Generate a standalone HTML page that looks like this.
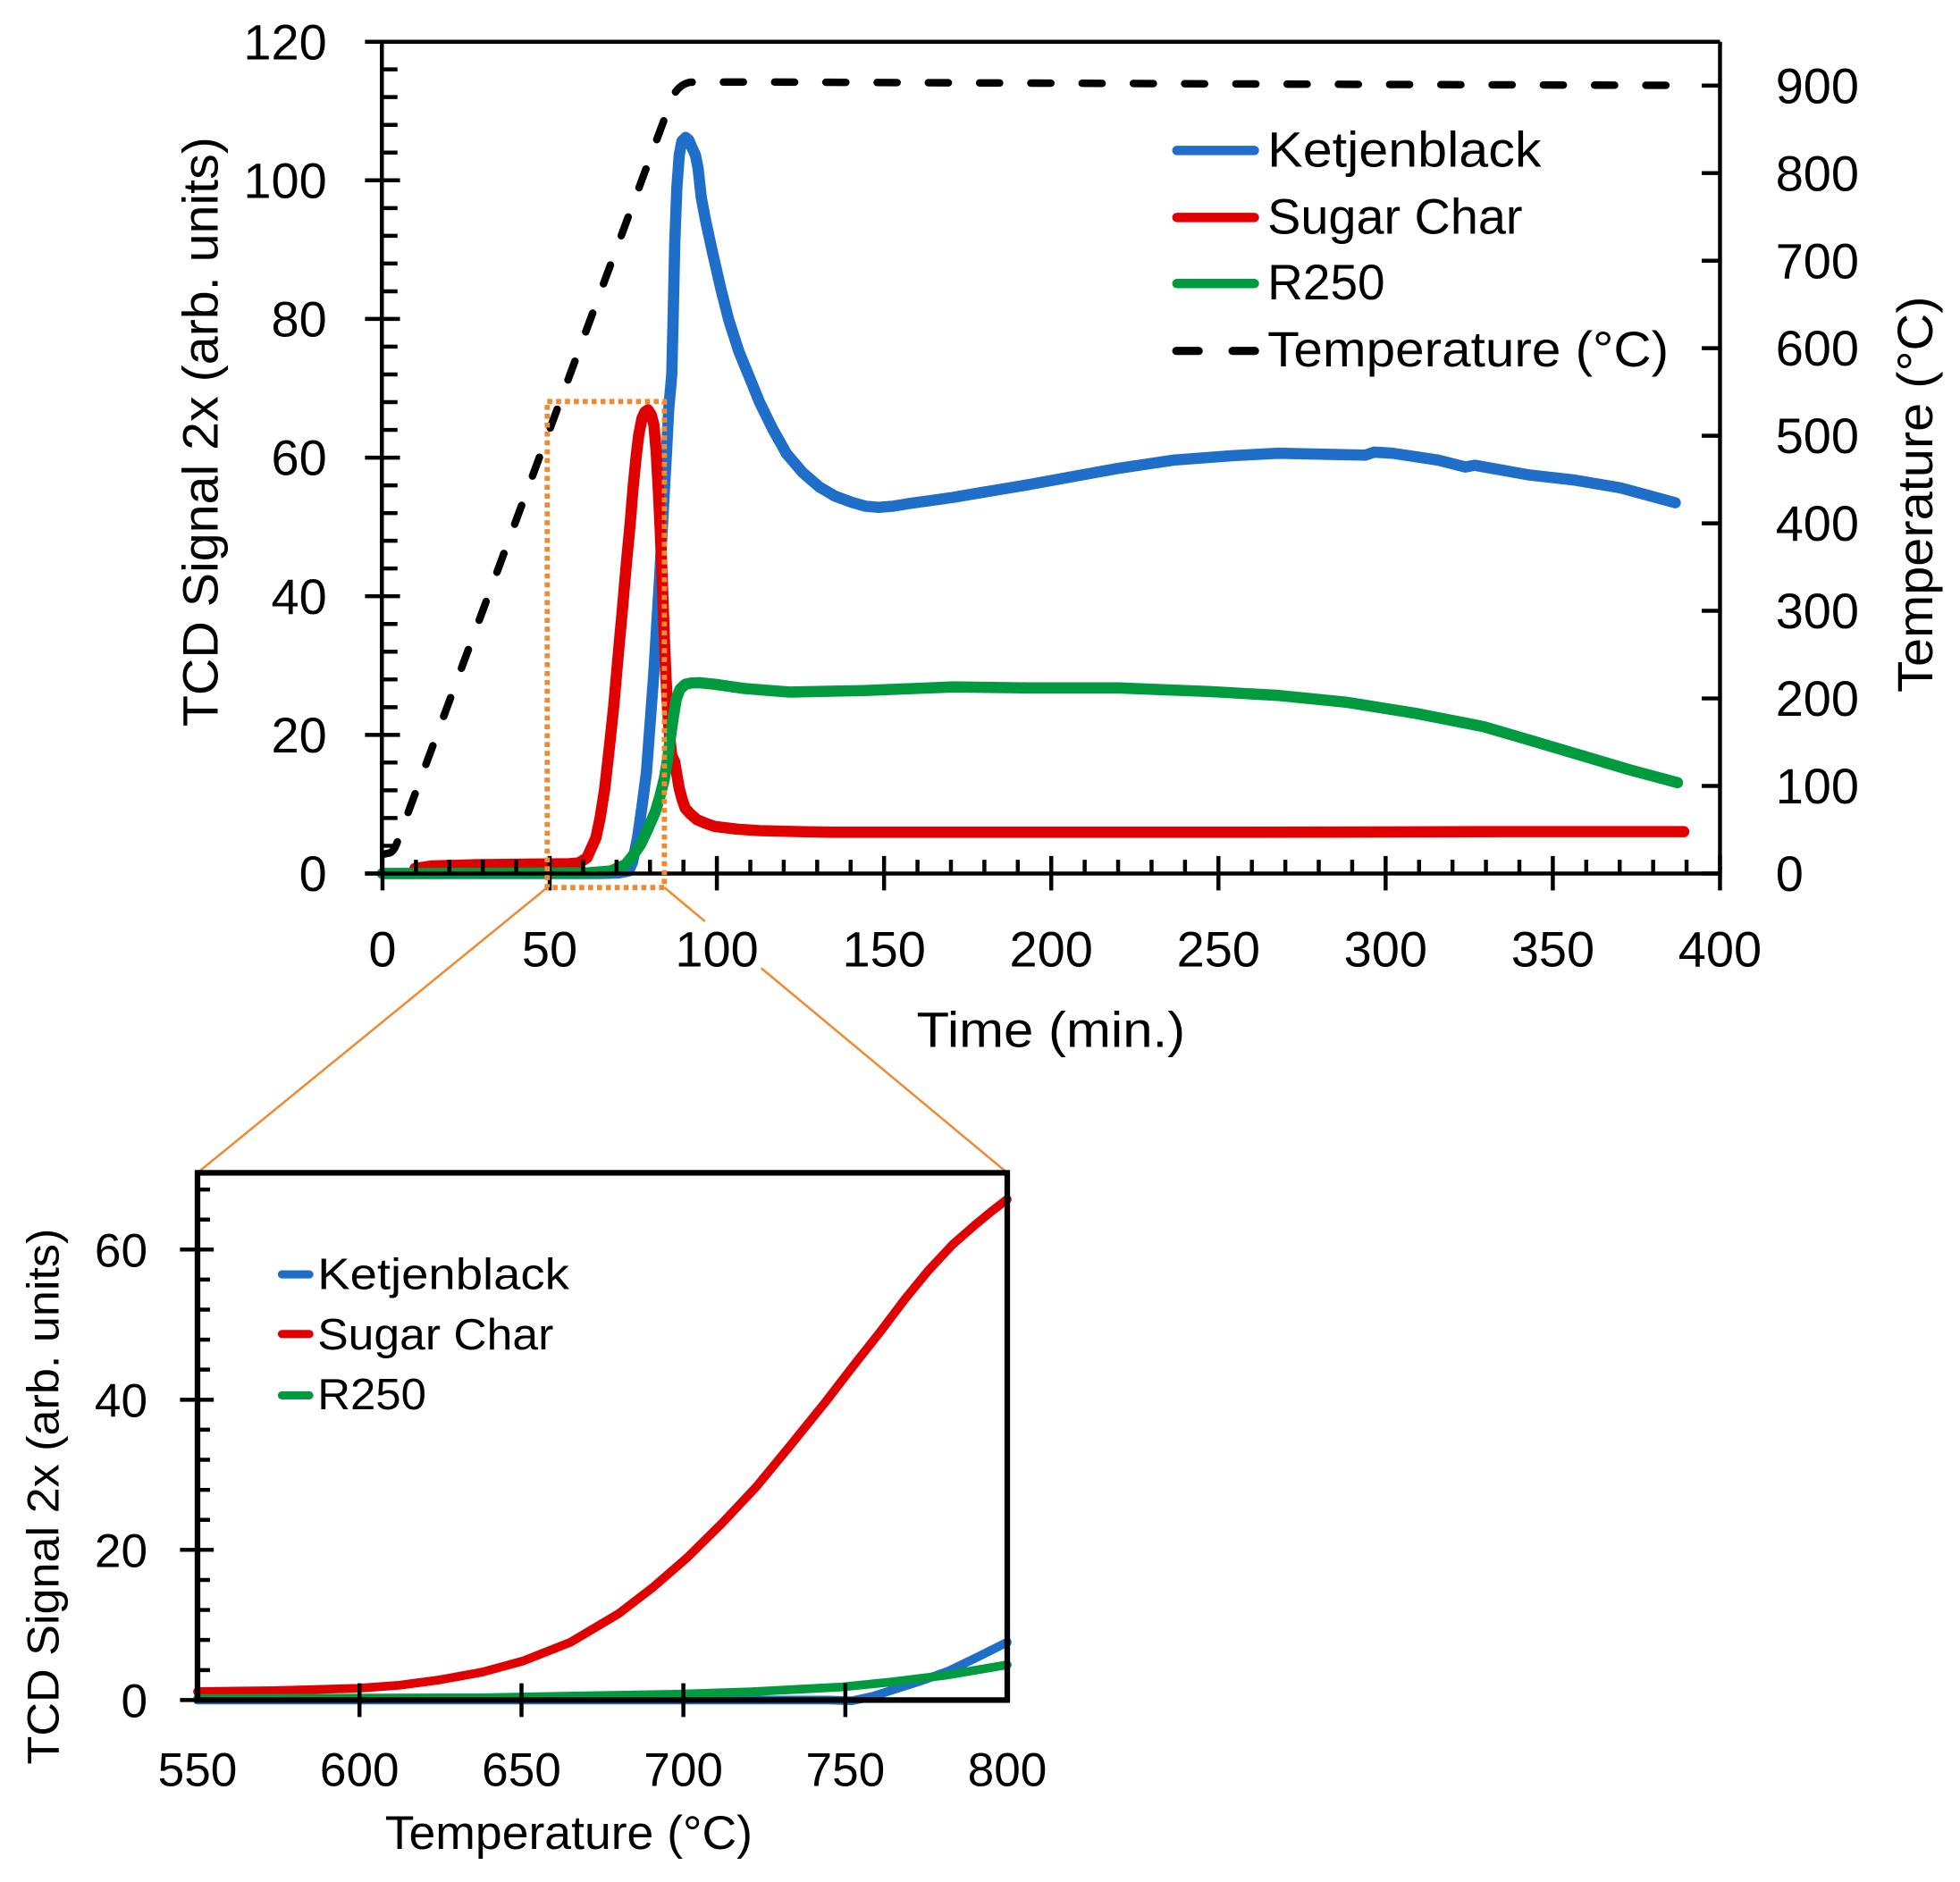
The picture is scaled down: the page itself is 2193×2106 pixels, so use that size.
<!DOCTYPE html>
<html><head><meta charset="utf-8"><style>
html,body{margin:0;padding:0;background:#fff;}
svg{display:block;}
text{font-family:"Liberation Sans",Arial,sans-serif;fill:#000;}
</style></head><body>
<svg xmlns="http://www.w3.org/2000/svg" width="2193" height="2106" viewBox="0 0 1568 1506" preserveAspectRatio="none">
<rect x="0" y="0" width="1568" height="1506" fill="#fff"/>

<!-- ===== MAIN CHART ===== -->
<g fill="none" stroke-linejoin="round" stroke-linecap="round" stroke-width="9">
<polyline stroke="#1F6FCA" points="306,699 480,699 495,698.5 502.9,697 506,690 510,670.6 513.5,646 517.2,617.7 520,580 523.1,538.4 525.5,498 527.9,459 529.7,425 531.5,393 533.3,360 535,327 537.4,300 538.5,255 539.8,195 541.5,150 543.4,124 545.5,113 548.5,110 551,112 553.5,118 556.3,124 558.5,135 561,158 564.8,178 570,202 576.8,231.6 583,256 591,281 600,303 607.7,322 618,343 629.2,363 642,378 655.4,389.6 668,397 681.6,402 692,405 703,406 715,405 726.9,403 745,400.5 762.6,398 780,395 798,392 822,388 858.7,381.3 895.2,374.7 938.9,368.2 986.4,364.6 1022.8,362.7 1059.3,363.5 1092.2,364.2 1099.4,361.8 1114,362.7 1150.5,368.2 1172.4,373.7 1179.7,372.3 1223.5,380.1 1260,384.2 1296.4,390.4 1340.2,402.3"/>
<polyline stroke="#E00000" points="332,695 345,693 380,692 420,691.5 455,691.2 463,690.5 469.5,686.5 476.7,670.6 480,655 483.8,631 487.5,598 491,564.8 494.5,525 498.1,485.5 501,452 504.1,419.3 506.5,390 508.8,366.4 511,348 513.6,334.7 516,329.5 518.4,328 521,332 523.1,340 525,362 526.7,392.9 528,420 529.1,445.8 530.3,478 531.5,511.9 532.7,540 533.9,564.8 535.6,588 537.4,604.5 539.8,609.8 541.5,620 543.4,631 545.8,640 548.2,646.8 552,651 557.7,656 565,659 572,661.4 590,663.5 607.7,664.7 640,665.5 667,666 860,666 1000,666 1200,665.5 1347,665.5"/>
<polyline stroke="#009B3E" points="306,699 470,698.5 488.6,697 500.5,691.8 506,685 512.4,675.9 518,664 524.3,649.4 528,637 531.5,623 534,608 536.2,591.2 538.6,574 541,559.5 544,551.5 548.2,547.6 553,546.5 560,546.3 572,547.6 595.8,551 631.6,553.8 691.1,552.6 762.6,549.7 822.2,550.5 895.2,550.5 968.1,553.4 1022.8,556.5 1077.6,562 1132.3,570.8 1187,581.5 1223.5,592.2 1260,603 1303.7,616 1342,626.3"/>
</g>
<path d="M307,683.5 L312,682.5 Q315,681 317,676 L537.5,79 Q542,68 552,65.8 L600,65.6 L800,66.4 L1000,67.2 L1200,67.9 L1340,68.3" fill="none" stroke="#000" stroke-width="6" stroke-linecap="round" stroke-linejoin="round" stroke-dasharray="16 25"/>

<!-- axes frame -->
<g stroke="#000" stroke-width="3.2" fill="none">
<line x1="305.5" y1="33.4" x2="1376" y2="33.4"/>
<line x1="305.5" y1="33.4" x2="305.5" y2="699"/>
<line x1="1376" y1="33.4" x2="1376" y2="699"/>
<line x1="292" y1="699" x2="1376" y2="699"/>
<path d="M292,699H320M292,588.1H320M292,477.1H320M292,366.2H320M292,255.2H320M292,144.3H320M292,33.4H320"/>
<path d="M305,676.8H318M305,654.6H318M305,632.4H318M305,610.2H318M305,565.9H318M305,543.7H318M305,521.5H318M305,499.3H318M305,454.9H318M305,432.7H318M305,410.6H318M305,388.4H318M305,344H318M305,321.8H318M305,299.6H318M305,277.4H318M305,233.1H318M305,210.9H318M305,188.7H318M305,166.5H318M305,122.1H318M305,99.9H318M305,77.7H318M305,55.5H318"/>
<path d="M306,685V712.5M439.75,685V712.5M573.5,685V712.5M707.25,685V712.5M841,685V712.5M974.75,685V712.5M1108.5,685V712.5M1242.25,685V712.5M1376,685V712.5"/>
<path d="M332.75,688V699M359.5,688V699M386.25,688V699M413,688V699M466.5,688V699M493.25,688V699M520,688V699M546.75,688V699M600.25,688V699M627,688V699M653.75,688V699M680.5,688V699M734,688V699M760.75,688V699M787.5,688V699M814.25,688V699M867.75,688V699M894.5,688V699M921.25,688V699M948,688V699M1001.5,688V699M1028.25,688V699M1055,688V699M1081.75,688V699M1135.25,688V699M1162,688V699M1188.75,688V699M1215.5,688V699M1269,688V699M1295.75,688V699M1322.5,688V699M1349.25,688V699"/>
<path d="M1361.4,699H1376M1361.4,628.9H1376M1361.4,558.9H1376M1361.4,488.8H1376M1361.4,418.8H1376M1361.4,348.7H1376M1361.4,278.6H1376M1361.4,208.6H1376M1361.4,138.5H1376M1361.4,68.5H1376"/>
</g>

<!-- orange zoom box and connectors -->
<rect x="437.8" y="321.3" width="93.7" height="388.9" fill="none" stroke="#F08A32" stroke-width="4.2" stroke-dasharray="4 3.1"/>
<g stroke="#F08A32" stroke-width="1.8" fill="none">
<line x1="437.8" y1="710.2" x2="158" y2="938.5"/>
<line x1="531.5" y1="710.2" x2="564" y2="737.3"/>
<line x1="609" y1="774.7" x2="805.8" y2="938.5"/>
</g>

<g font-size="40" text-anchor="end">
<text x="261.5" y="713">0</text>
<text x="261.5" y="602.1">20</text>
<text x="261.5" y="491.1">40</text>
<text x="261.5" y="380.2">60</text>
<text x="261.5" y="269.2">80</text>
<text x="261.5" y="158.3">100</text>
<text x="261.5" y="47.4">120</text>
</g>
<g font-size="40" text-anchor="start">
<text x="1420.5" y="713">0</text>
<text x="1420.5" y="642.9">100</text>
<text x="1420.5" y="572.9">200</text>
<text x="1420.5" y="502.8">300</text>
<text x="1420.5" y="432.8">400</text>
<text x="1420.5" y="362.7">500</text>
<text x="1420.5" y="292.6">600</text>
<text x="1420.5" y="222.6">700</text>
<text x="1420.5" y="152.5">800</text>
<text x="1420.5" y="82.5">900</text>
</g>
<g font-size="40" text-anchor="middle">
<text x="306" y="773.4">0</text>
<text x="439.75" y="773.4">50</text>
<text x="573.5" y="773.4">100</text>
<text x="707.25" y="773.4">150</text>
<text x="841" y="773.4">200</text>
<text x="974.75" y="773.4">250</text>
<text x="1108.5" y="773.4">300</text>
<text x="1242.25" y="773.4">350</text>
<text x="1376" y="773.4">400</text>
</g>

<text x="840.7" y="837.8" font-size="40" text-anchor="middle" textLength="215" lengthAdjust="spacingAndGlyphs">Time (min.)</text>
<text transform="translate(174,345.5) rotate(-90)" x="0" y="0" font-size="40" text-anchor="middle" textLength="472" lengthAdjust="spacingAndGlyphs">TCD Signal 2x (arb. units)</text>
<text transform="translate(1546,395.6) rotate(-90)" x="0" y="0" font-size="40" text-anchor="middle" textLength="317" lengthAdjust="spacingAndGlyphs">Temperature (°C)</text>

<g stroke-width="7.5" stroke-linecap="round" fill="none">
<line x1="941.5" y1="120.4" x2="1003.5" y2="120.4" stroke="#1F6FCA"/>
<line x1="941.5" y1="174" x2="1003.5" y2="174" stroke="#E00000"/>
<line x1="941.5" y1="226.9" x2="1003.5" y2="226.9" stroke="#009B3E"/>
</g>
<path d="M941,280.8H959M986,280.8H1004" stroke="#000" stroke-width="6.5" stroke-linecap="round" fill="none"/>
<g font-size="40">
<text x="1014" y="133.5" textLength="219" lengthAdjust="spacingAndGlyphs">Ketjenblack</text>
<text x="1014" y="187.1" textLength="204" lengthAdjust="spacingAndGlyphs">Sugar Char</text>
<text x="1014" y="239.5" textLength="94" lengthAdjust="spacingAndGlyphs">R250</text>
<text x="1014" y="293.2" textLength="321" lengthAdjust="spacingAndGlyphs">Temperature (°C)</text>
</g>

<!-- ===== INSET CHART ===== -->
<g fill="none" stroke-linejoin="round" stroke-linecap="round" stroke-width="7">
<polyline stroke="#1F6FCA" points="158,1360.4 663.3,1360.4 681.4,1361 698,1357.5 715.1,1352 737,1345 759.2,1337 782,1326 805.8,1314.1"/>
<polyline stroke="#E00000" points="158,1353.6 220.2,1352.9 286,1351 320,1348.5 352.1,1344.2 386,1338 418.2,1329.2 456.5,1314.1 494.9,1291.3 522,1270.5 550,1246.2 578,1218.5 605,1189.8 632,1157 659.9,1122.5 683,1092.5 704,1066 724,1039.5 742.6,1016.8 762,996 780.9,979.5 793,969.5 805.8,959.7"/>
<polyline stroke="#009B3E" points="158,1359.2 383.4,1358.6 546.7,1355.6 601.1,1353.8 673.6,1349.9 712.5,1346 756.6,1340.6 805.8,1332.2"/>
</g>
<g stroke="#000" fill="none">
<rect x="158" y="938.5" width="647.8" height="421.9" stroke-width="4.5"/>
<path stroke-width="3.2" d="M144,1360.4H171M144,1240.2H171M144,1120.1H171M144,999.9H171"/>
<path stroke-width="3.2" d="M158,1336.4H168M158,1312.3H168M158,1288.3H168M158,1264.3H168M158,1216.2H168M158,1192.2H168M158,1168.1H168M158,1144.1H168M158,1096H168M158,1072H168M158,1048H168M158,1023.9H168M158,975.9H168M158,951.9H168"/>
<path stroke-width="3.2" d="M287.6,1347V1374M417.2,1347V1374M546.7,1347V1374M676.3,1347V1374"/>
</g>
<g font-size="38" text-anchor="end">
<text x="118" y="1374">0</text>
<text x="118" y="1253.8">20</text>
<text x="118" y="1133.7">40</text>
<text x="118" y="1013.5">60</text>
</g>
<g font-size="38" text-anchor="middle">
<text x="158" y="1429">550</text>
<text x="287.6" y="1429">600</text>
<text x="417.2" y="1429">650</text>
<text x="546.7" y="1429">700</text>
<text x="676.3" y="1429">750</text>
<text x="805.8" y="1429">800</text>
</g>
<text x="455" y="1479.7" font-size="38" text-anchor="middle" textLength="294" lengthAdjust="spacingAndGlyphs">Temperature (°C)</text>
<text transform="translate(46.8,1197.5) rotate(-90)" x="0" y="0" font-size="36" text-anchor="middle" textLength="429" lengthAdjust="spacingAndGlyphs">TCD Signal 2x (arb. units)</text>

<g stroke-width="6.5" stroke-linecap="round" fill="none">
<line x1="225.5" y1="1019.8" x2="247.5" y2="1019.8" stroke="#1F6FCA"/>
<line x1="225.5" y1="1067.5" x2="247.5" y2="1067.5" stroke="#E00000"/>
<line x1="225.5" y1="1116.6" x2="247.5" y2="1116.6" stroke="#009B3E"/>
</g>
<g font-size="35">
<text x="254" y="1031.7" textLength="201.4" lengthAdjust="spacingAndGlyphs">Ketjenblack</text>
<text x="254" y="1079.7" textLength="188.8" lengthAdjust="spacingAndGlyphs">Sugar Char</text>
<text x="254" y="1127.8" textLength="87" lengthAdjust="spacingAndGlyphs">R250</text>
</g>
</svg>
</body></html>
